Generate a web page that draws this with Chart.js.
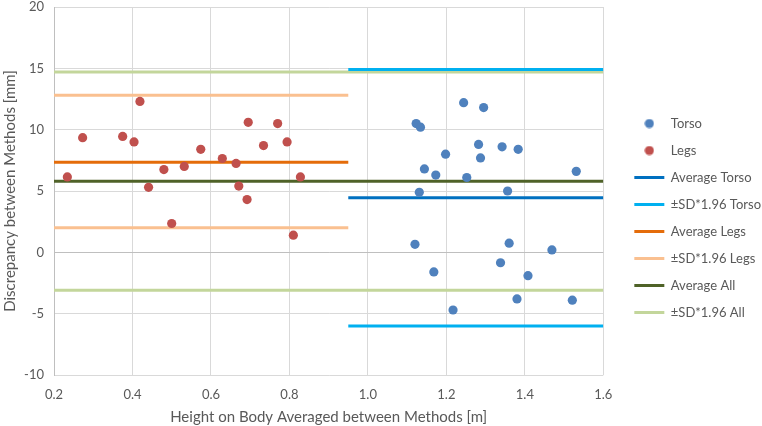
<!DOCTYPE html>
<html lang="en">
<head>
    <meta charset="UTF-8">
    <title>Bland-Altman</title>
    <script src="https://cdn.jsdelivr.net/npm/chart.js"></script>
    <style>
        body { margin: 0; background: #fff; }
        #wrap { width: 762px; height: 426px; }
    </style>
</head>
<body>
    <div id="wrap"><canvas id="myChart"></canvas></div>
    <script>
        // measured points
        const torsoX = [1.123, 1.134, 1.244, 1.295, 1.198, 1.282, 1.287, 1.342, 1.383, 1.144, 1.173, 1.252,
                        1.531, 1.131, 1.356, 1.120, 1.168, 1.360, 1.338, 1.469, 1.408, 1.217, 1.380, 1.521];
        const torsoY = [10.5, 10.2, 12.2, 11.8, 8.0, 8.8, 7.7, 8.6, 8.4, 6.8, 6.3, 6.1,
                        6.6, 4.9, 5.0, 0.65, -1.6, 0.75, -0.85, 0.2, -1.9, -4.7, -3.8, -3.9];
        const legsX = [0.234, 0.273, 0.375, 0.419, 0.404, 0.441, 0.480, 0.532, 0.574, 0.629,
                       0.664, 0.671, 0.692, 0.695, 0.734, 0.770, 0.794, 0.828, 0.500, 0.810];
        const legsY = [6.15, 9.35, 9.45, 12.3, 9.0, 5.3, 6.75, 7.0, 8.4, 7.65,
                       7.25, 5.4, 4.3, 10.6, 8.7, 10.5, 9.0, 6.15, 2.35, 1.4];

        // x extents of the reference lines
        const legsRange = [0.2, 0.95];
        const torsoRange = [0.95, 1.6];
        const allRange = [0.2, 1.6];

        // averages and limits (mean ± SD*1.96)
        const avgTorso = 4.45, sdTorso = [14.9, -6.0];
        const avgLegs = 7.35, sdLegs = [12.8, 2.0];
        const avgAll = 5.8, sdAll = [14.7, -3.1];

        const xTicks = [0.2, 0.4, 0.6, 0.8, 1.0, 1.2, 1.4, 1.6];
        const yTicks = [-10, -5, 0, 5, 10, 15, 20];

        const FONT = 'Lato';
        const GREY = '#595959';

        function pts(xs, ys) {
            return xs.map((x, i) => ({ x: x, y: ys[i] }));
        }
        function hline(range, y) {
            return [{ x: range[0], y: y }, { x: range[1], y: y }];
        }
        function lineSet(label, range, y, color, hidden) {
            return {
                type: 'line',
                label: label,
                data: hline(range, y),
                borderColor: color,
                backgroundColor: color,
                borderWidth: 3,
                pointRadius: 0,
                pointStyle: 'line',
                noLegend: hidden
            };
        }

        // small circle picture for the legend
        function dot(color) {
            const c = document.createElement('canvas');
            c.width = 10; c.height = 10;
            const g = c.getContext('2d');
            g.fillStyle = color;
            g.beginPath();
            g.arc(5, 5, 4.6, 0, Math.PI * 2);
            g.fill();
            return c;
        }

        // move the legend a bit away from the plot
        const legendNudge = {
            id: 'legendNudge',
            beforeInit(chart) {
                const fit = chart.legend.fit;
                chart.legend.fit = function () { fit.call(this); this.width += 8; };
            },
            afterLayout(chart) {
                const lg = chart.legend;
                lg.left += 17; lg.right += 17;
                lg.top += 5; lg.bottom += 5;
            }
        };

        const ctx = document.getElementById('myChart').getContext('2d');

        let myChart = new Chart(ctx, {
            type: 'scatter',
            data: {
                datasets: [
                    { label: 'Torso', data: pts(torsoX, torsoY), backgroundColor: '#4F81BD', pointBorderWidth: 0, pointRadius: 4.6, legendDot: dot('#4F81BD') },
                    { label: 'Legs', data: pts(legsX, legsY), backgroundColor: '#C0504D', pointBorderWidth: 0, pointRadius: 4.6, legendDot: dot('#C0504D') },
                    lineSet('Average Torso', torsoRange, avgTorso, '#0070C0'),
                    lineSet('±SD*1.96 Torso', torsoRange, sdTorso[0], '#00B0F0'),
                    lineSet('±SD*1.96 Torso', torsoRange, sdTorso[1], '#00B0F0', true),
                    lineSet('Average Legs', legsRange, avgLegs, '#E46C0A'),
                    lineSet('±SD*1.96 Legs', legsRange, sdLegs[0], '#FAC090'),
                    lineSet('±SD*1.96 Legs', legsRange, sdLegs[1], '#FAC090', true),
                    lineSet('Average All', allRange, avgAll, '#4F6228'),
                    lineSet('±SD*1.96 All', allRange, sdAll[0], '#C3D69B'),
                    lineSet('±SD*1.96 All', allRange, sdAll[1], '#C3D69B', true)
                ]
            },
            plugins: [legendNudge],
            options: {
                responsive: true,
                maintainAspectRatio: false,
                animation: false,
                layout: { padding: { left: 0, right: 0, top: 0, bottom: 0 } },
                plugins: {
                    tooltip: { enabled: false },
                    legend: {
                        position: 'right',
                        labels: {
                            usePointStyle: true,
                            pointStyleWidth: 30,
                            padding: 14,
                            color: GREY,
                            font: { family: FONT, size: 13 },
                            filter: (item, data) => !data.datasets[item.datasetIndex].noLegend,
                            generateLabels: (chart) => {
                                const items = Chart.defaults.plugins.legend.labels.generateLabels(chart);
                                items.forEach(it => {
                                    const ds = chart.data.datasets[it.datasetIndex];
                                    if (ds.legendDot) it.pointStyle = ds.legendDot;
                                });
                                return items;
                            }
                        }
                    }
                },
                scales: {
                    x: {
                        type: 'linear',
                        min: 0.2,
                        max: 1.6,
                        afterBuildTicks: (s) => { s.ticks = xTicks.map(v => ({ value: v })); },
                        afterFit: (s) => { s.height = 51; },
                        ticks: {
                            color: GREY,
                            font: { family: FONT, size: 13 },
                            padding: 12,
                            callback: (v) => v.toFixed(1)
                        },
                        grid: { color: '#D9D9D9', lineWidth: 1, drawTicks: false },
                        border: { display: false },
                        title: {
                            display: true,
                            text: 'Height on Body Averaged between Methods [m]',
                            color: GREY,
                            font: { family: FONT, size: 15 },
                            padding: { top: 0, bottom: 0 }
                        }
                    },
                    y: {
                        min: -10,
                        max: 20,
                        afterBuildTicks: (s) => { s.ticks = yTicks.map(v => ({ value: v })); },
                        afterFit: (s) => { s.width = 54; s.paddingTop = 7; s.paddingBottom = 0; },
                        ticks: {
                            color: GREY,
                            font: { family: FONT, size: 13 },
                            padding: 10
                        },
                        grid: {
                            color: (c) => c.tick && c.tick.value === 0 ? '#BFBFBF' : '#D9D9D9',
                            lineWidth: 1,
                            drawTicks: false
                        },
                        border: { display: true, color: '#BFBFBF' },
                        title: {
                            display: true,
                            text: 'Discrepancy between Methods [mm]',
                            color: GREY,
                            font: { family: FONT, size: 15 },
                            padding: { top: 1, bottom: 0 }
                        }
                    }
                }
            }
        });
    </script>
</body>
</html>
